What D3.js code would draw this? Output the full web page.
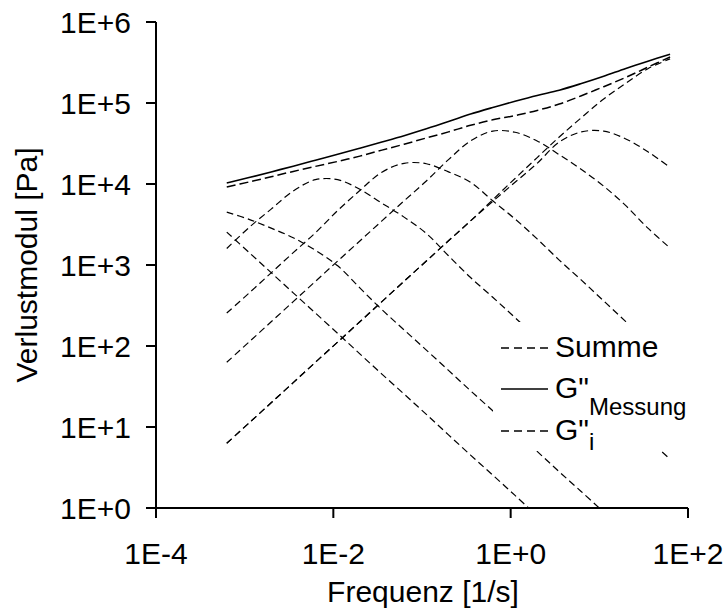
<!DOCTYPE html>
<html>
<head>
<meta charset="utf-8">
<script src="https://cdn.jsdelivr.net/npm/d3@7/dist/d3.min.js"></script>
<style>
  html, body { margin: 0; padding: 0; background: #fff; }
  svg { display: block; font-family: "Liberation Sans", Arial, sans-serif; }
</style>
</head>
<body>
<svg id="chart" width="728" height="612"></svg>
<script>
// Angular frequency grid [1/s]
const freq = [6.28e-4, 1.12e-3, 1.99e-3, 3.53e-3, 6.28e-3, 1.12e-2, 1.99e-2, 3.53e-2,
              6.28e-2, 0.112, 0.199, 0.353, 0.628, 1.12, 1.99, 3.53, 6.28, 11.2, 19.9, 35.3, 62.8];

// Measured loss modulus G'' [Pa]
const messung = [1.03e4, 1.2e4, 1.41e4, 1.66e4, 1.97e4, 2.33e4, 2.77e4, 3.3e4, 3.95e4, 4.8e4,
                 5.9e4, 7.3e4, 8.8e4, 1.05e5, 1.24e5, 1.44e5, 1.74e5, 2.14e5, 2.67e5, 3.28e5, 4.0e5];

// Sum of all relaxation modes [Pa]
const summe = [9.2e3, 1.06e4, 1.23e4, 1.43e4, 1.65e4, 1.9e4, 2.21e4, 2.62e4, 3.1e4, 3.7e4,
               4.4e4, 5.3e4, 6.2e4, 7.0e4, 8.1e4, 9.7e4, 1.23e5, 1.59e5, 2.07e5, 2.77e5, 3.7e5];

// Individual modes G''_i [Pa] (null = below the axis range)
const mode1 = [4.5e3, 3.66e3, 2.85e3, 2.17e3, 1.52e3, 977, 521, 281, 158, 89, 50, 28, 15.9,
               8.9, 5.0, 2.8, 1.59, 0.89, null, null, null];
const mode2 = [2.55e3, 1.43e3, 804, 453, 255, 143, 80, 45, 25.5, 14.3, 8.0, 4.5, 2.55,
               1.43, 0.80, null, null, null, null, null, null];
const mode3 = [1.6e3, 2.9e3, 4.9e3, 8.2e3, 1.13e4, 1.13e4, 8.6e3, 5.8e3, 3.9e3, 2.45e3,
               1.3e3, 700, 400, 224, 126, 71, 40, 22.4, 12.6, 7.1, 4.0];
const mode4 = [255, 450, 800, 1.42e3, 2.5e3, 4.7e3, 8.3e3, 1.4e4, 1.8e4, 1.78e4, 1.41e4,
               1.05e4, 6.2e3, 3.7e3, 2.1e3, 1.15e3, 650, 360, 200, 113, 64];
const mode5 = [63, 112, 199, 353, 628, 1.12e3, 1.98e3, 3.5e3, 6.2e3, 1.09e4, 2.0e4, 3.4e4,
               4.5e4, 4.35e4, 3.4e4, 2.3e4, 1.51e4, 9.4e3, 5.4e3, 2.85e3, 1.62e3];
const mode6 = [6.3, 11.2, 19.9, 35.3, 63, 112, 199, 353, 630, 1.12e3, 1.99e3, 3.5e3, 6.1e3,
               1.05e4, 1.8e4, 3.3e4, 4.4e4, 4.5e4, 3.6e4, 2.5e4, 1.6e4];
const mode7 = [6.3, 11.2, 19.9, 35.3, 63, 112, 199, 353, 630, 1.12e3, 1.99e3, 3.5e3, 6.4e3,
               1.17e4, 2.12e4, 3.8e4, 6.6e4, 1.12e5, 1.75e5, 2.65e5, 3.5e5];
const modes = [mode1, mode2, mode3, mode4, mode5, mode6, mode7];

// Axis ticks
const xTicks = [1e-4, 1e-2, 1, 1e2];
const xTickLabels = ["1E-4", "1E-2", "1E+0", "1E+2"];
const yTicks = [1, 10, 100, 1e3, 1e4, 1e5, 1e6];
const yTickLabels = ["1E+0", "1E+1", "1E+2", "1E+3", "1E+4", "1E+5", "1E+6"];

const svg = d3.select("#chart");
const plotL = 156, plotR = 688, plotT = 22, plotB = 508;

const x = d3.scaleLog().domain([1e-4, 1e2]).range([plotL, plotR]);
const y = d3.scaleLog().domain([1, 1e6]).range([plotB, plotT]);

svg.append("defs").append("clipPath").attr("id", "plot")
  .append("rect").attr("x", plotL).attr("y", plotT)
  .attr("width", plotR - plotL).attr("height", plotB - plotT);

const line = d3.line()
  .defined(d => d[1] != null)
  .x(d => x(d[0]))
  .y(d => y(d[1]))
  .curve(d3.curveCatmullRom.alpha(0.5));

const pts = vals => freq.map((f, i) => [f, vals[i]]);

const plot = svg.append("g").attr("clip-path", "url(#plot)");

modes.forEach(m => {
  plot.append("path").attr("d", line(pts(m)))
    .attr("fill", "none").attr("stroke", "#000")
    .attr("stroke-width", 1.2).attr("stroke-dasharray", "7,4");
});

plot.append("path").attr("d", line(pts(summe)))
  .attr("fill", "none").attr("stroke", "#000")
  .attr("stroke-width", 1.5).attr("stroke-dasharray", "9,4");

plot.append("path").attr("d", line(pts(messung)))
  .attr("fill", "none").attr("stroke", "#000")
  .attr("stroke-width", 1.6);

// Axes
const yAxis = svg.append("g").attr("transform", `translate(${plotL},0)`)
  .call(d3.axisLeft(y).tickValues(yTicks).tickFormat((d, i) => yTickLabels[i])
    .tickSize(10).tickSizeOuter(0).tickPadding(15).offset(0));
const xAxis = svg.append("g").attr("transform", `translate(0,${plotB})`)
  .call(d3.axisBottom(x).tickValues(xTicks).tickFormat((d, i) => xTickLabels[i])
    .tickSize(10).tickSizeOuter(0).tickPadding(25).offset(0));

[yAxis, xAxis].forEach(g => {
  g.selectAll("path.domain").attr("stroke", "#000").attr("stroke-width", 2);
  g.selectAll(".tick line").attr("stroke", "#000").attr("stroke-width", 2);
  g.selectAll(".tick text").attr("fill", "#000")
    .style("font-size", "30px").style("font-family", "'Liberation Sans', Arial, sans-serif");
});
yAxis.selectAll(".tick text").attr("dy", "0.37em");

// Axis titles
svg.append("text")
  .attr("transform", "translate(37,265) rotate(-90)")
  .attr("text-anchor", "middle").style("font-size", "30px")
  .text("Verlustmodul [Pa]");
svg.append("text")
  .attr("x", 423).attr("y", 602)
  .attr("text-anchor", "middle").style("font-size", "30px")
  .text("Frequenz [1/s]");

// Legend
const lg = svg.append("g");
lg.append("rect").attr("x", 493).attr("y", 322).attr("width", 212).attr("height", 129)
  .attr("fill", "#fff");
lg.append("line").attr("x1", 501).attr("x2", 548).attr("y1", 348).attr("y2", 348)
  .attr("stroke", "#000").attr("stroke-width", 1.5).attr("stroke-dasharray", "8,5");
lg.append("text").attr("x", 555).attr("y", 357).style("font-size", "30px").text("Summe");

lg.append("line").attr("x1", 501).attr("x2", 548).attr("y1", 389).attr("y2", 389)
  .attr("stroke", "#000").attr("stroke-width", 1.5);
const t2 = lg.append("text").attr("x", 555).attr("y", 398).style("font-size", "30px");
t2.append("tspan").text('G"');
t2.append("tspan").attr("dy", 17).style("font-size", "24px").text("Messung");

lg.append("line").attr("x1", 501).attr("x2", 548).attr("y1", 431).attr("y2", 431)
  .attr("stroke", "#000").attr("stroke-width", 1.5).attr("stroke-dasharray", "8,5");
const t3 = lg.append("text").attr("x", 555).attr("y", 440).style("font-size", "30px");
t3.append("tspan").text('G"');
t3.append("tspan").attr("dy", 10).style("font-size", "24px").text("i");
</script>
</body>
</html>
